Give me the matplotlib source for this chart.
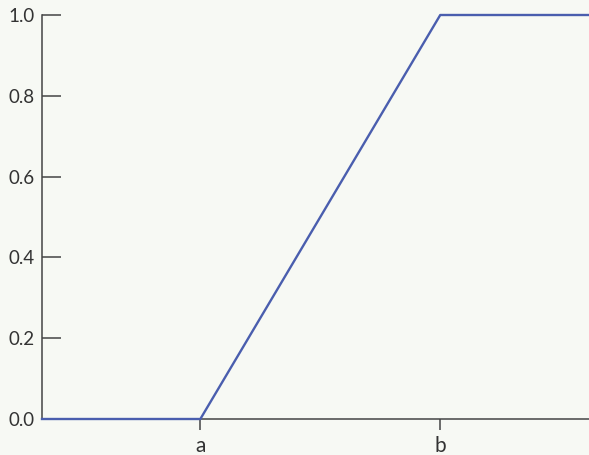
import numpy as np
import matplotlib.pyplot as plt

# CDF of a uniform distribution on [a, b]
x_pts = [-0.66, 0.0, 1.0, 1.63]
y_pts = [0.0, 0.0, 1.0, 1.0]
x_ticks = [0.0, 1.0]
x_labels = ["a", "b"]
y_ticks = [0.0, 0.2, 0.4, 0.6, 0.8, 1.0]
y_labels = ["0.0", "0.2", "0.4", "0.6", "0.8", "1.0"]

bg = "#f7f9f4"
plt.rcParams["font.family"] = ["Lato", "DejaVu Sans"]

fig = plt.figure(figsize=(5.89, 4.55), dpi=100, facecolor=bg)
ax = fig.add_axes([42/589, 36/455, 1 - 42/589, (419-15)/455])
ax.set_facecolor(bg)

# the CDF line
ax.plot(x_pts, y_pts, color="#4a5eae", lw=1.7, clip_on=False, zorder=3)

ax.set_xlim(-0.66, 0.62 + 1.0)
ax.set_ylim(0, 1)
ax.set_xticks(x_ticks, x_labels)
ax.set_yticks(y_ticks, y_labels)

for s in ["top", "right"]:
    ax.spines[s].set_visible(False)
for s in ["left", "bottom"]:
    ax.spines[s].set_color("#444444")
    ax.spines[s].set_linewidth(1.1)

# y ticks point inward, x ticks outward
ax.tick_params(axis="y", direction="in", length=14, width=1.1, color="#444444",
               labelsize=13.5, labelcolor="#333333", pad=5)
ax.tick_params(axis="x", direction="out", length=8, width=1.1, color="#444444",
               labelsize=15, labelcolor="#333333", pad=4)

fig.savefig("out.png", dpi=100, facecolor=bg)
